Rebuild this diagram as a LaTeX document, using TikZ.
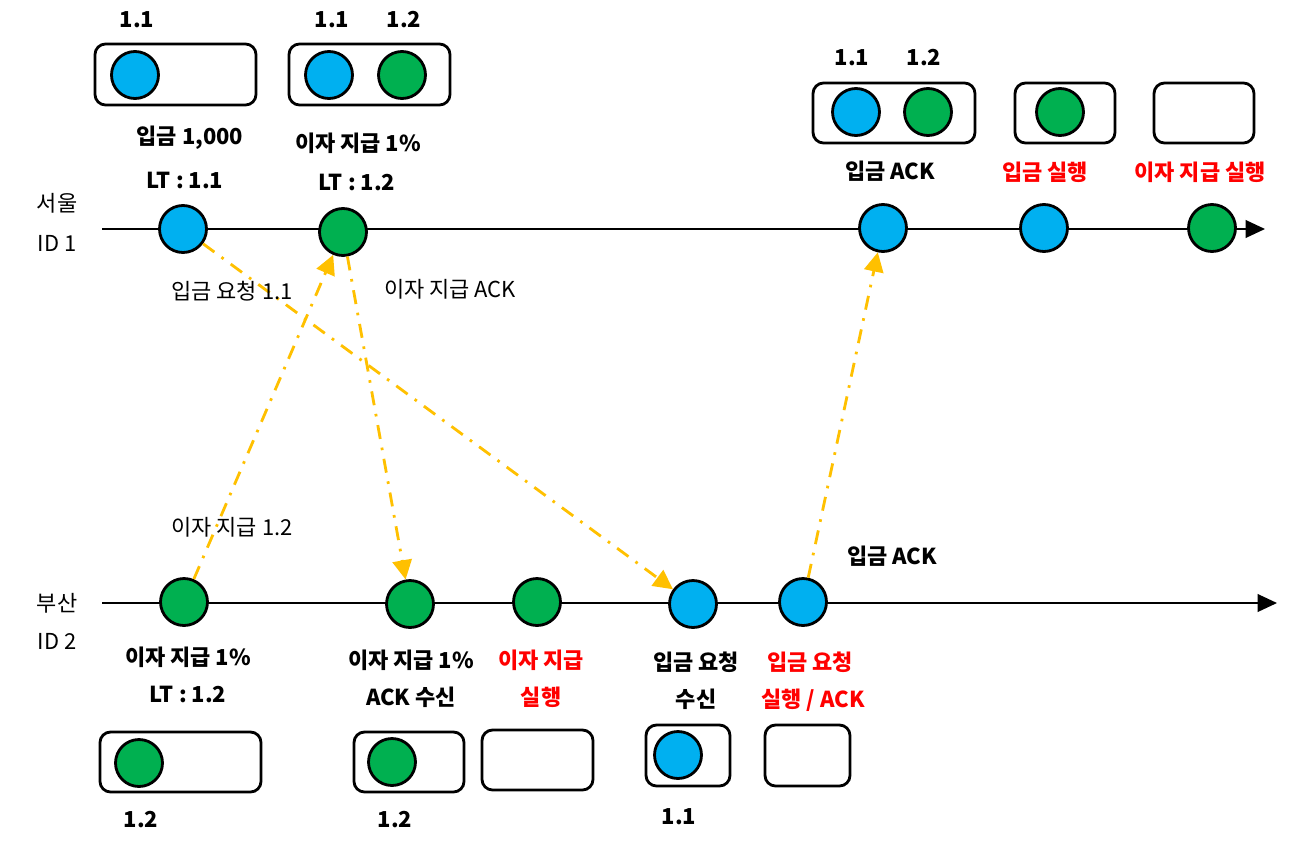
\documentclass[tikz,border=0pt]{standalone}
\usepackage{fontspec}
\setmainfont{Noto Sans CJK KR}
\usetikzlibrary{arrows.meta}
\definecolor{evblue}{RGB}{0,176,240}
\definecolor{evgreen}{RGB}{0,176,80}
\definecolor{msgcol}{RGB}{255,192,0}
\definecolor{runcol}{RGB}{255,0,0}

\begin{document}
\begin{tikzpicture}[x=0.02cm,y=-0.02cm]
    \tikzstyle{every node}=[font=\fontsize{12.5}{14}\selectfont]
    \tikzset{
        ev/.style={circle, draw=black, line width=1.6pt, minimum size=0.94cm, inner sep=0pt},
        evb/.style={ev, fill=evblue},
        evg/.style={ev, fill=evgreen},
        buf/.style={draw=black, line width=1.6pt, rounded corners=6pt},
        lbl/.style={font=\fontsize{12.5}{14}\selectfont\bfseries},
        run/.style={lbl, text=runcol},
        tl/.style={line width=1.1pt, -{Triangle[length=11pt,width=10pt]}},
        msg/.style={draw=msgcol, line width=1.6pt, dash pattern=on 8pt off 5pt on 1.5pt off 5pt, -{Triangle[length=11pt,width=11pt]}}
    }
    \useasboundingbox (0,0) rectangle (1297,845);

    % Time lines
    \coordinate (S0) at (102,229);
    \coordinate (S1) at (1265,229);
    \coordinate (B0) at (102,603);
    \coordinate (B1) at (1277,603);
    \draw[tl] (S0) -- (S1);
    \draw[tl] (B0) -- (B1);

    \node at (57,203) (Sname) {서울};
    \node at (57,243) (Sid) {ID 1};
    \node at (57,603) (Bname) {부산};
    \node at (57,641) (Bid) {ID 2};

    % Seoul events
    \node[evb] at (183,229) (Se1) {};
    \node[evg] at (343,232) (Se2) {};
    \node[evb] at (883,228) (Se3) {};
    \node[evb] at (1044,228) (Se4) {};
    \node[evg] at (1212,228) (Se5) {};

    % Busan events
    \node[evg] at (184,602) (Be1) {};
    \node[evg] at (410,604) (Be2) {};
    \node[evg] at (537,602) (Be3) {};
    \node[evb] at (693,604) (Be4) {};
    \node[evb] at (803,602) (Be5) {};

    % Messages
    \draw[msg] (Se1) -- (Be4);
    \draw[msg] (Be1) -- (Se2);
    \draw[msg] (Se2) -- (Be2);
    \draw[msg] (Be5) -- (Se3);

    \node at (232,291) (Mreq) {입금 요청 1.1};
    \node at (450,289) (Mack) {이자 지급 ACK};
    \node at (232,527) (Mint) {이자 지급 1.2};

    % Seoul labels
    \node[lbl] at (190,138) (Sl1) {입금 1,000};
    \node[lbl] at (185,180) (Sl1b) {LT : 1.1};
    \node[lbl] at (358,143) (Sl2) {이자 지급 1\%};
    \node[lbl] at (357,182) (Sl2b) {LT : 1.2};
    \node[lbl] at (890,171) (Sl3) {입금 ACK};
    \node[run] at (1045,172) (Sl4) {입금 실행};
    \node[run] at (1200,172) (Sl5) {이자 지급 실행};

    % Busan labels
    \node[lbl] at (188,657) (Bl1) {이자 지급 1\%};
    \node[lbl] at (188,694) (Bl1b) {LT : 1.2};
    \node[lbl] at (411,660) (Bl2) {이자 지급 1\%};
    \node[lbl] at (411,697) (Bl2b) {ACK 수신};
    \node[run] at (541,660) (Bl3) {이자 지급};
    \node[run] at (541,697) (Bl3b) {실행};
    \node[lbl] at (696,662) (Bl4) {입금 요청};
    \node[lbl] at (696,699) (Bl4b) {수신};
    \node[run] at (810,662) (Bl5) {입금 요청};
    \node[run] at (813,700) (Bl5b) {실행 / ACK};
    \node[lbl] at (892,556) (Bl6) {입금 ACK};

    % Seoul buffers
    \draw[buf] (95,44) rectangle (256,105);
    \node[evb] at (135,75) (Sq1a) {};
    \node[lbl] at (137,20) (Sq1t) {1.1};
    \draw[buf] (289,44) rectangle (450,105);
    \node[evb] at (329,75) (Sq2a) {};
    \node[evg] at (402,75) (Sq2b) {};
    \node[lbl] at (332,20) (Sq2ta) {1.1};
    \node[lbl] at (404,20) (Sq2tb) {1.2};
    \draw[buf] (813,83) rectangle (975,143);
    \node[evb] at (856,112) (Sq3a) {};
    \node[evg] at (928,112) (Sq3b) {};
    \node[lbl] at (852,58) (Sq3ta) {1.1};
    \node[lbl] at (924,58) (Sq3tb) {1.2};
    \draw[buf] (1015,83) rectangle (1115,143);
    \node[evg] at (1060,112) (Sq4a) {};
    \draw[buf] (1154,83) rectangle (1254,143);

    % Busan buffers
    \draw[buf] (100,732) rectangle (261,792);
    \node[evg] at (139,763) (Bq1a) {};
    \node[lbl] at (141,820) (Bq1t) {1.2};
    \draw[buf] (354,732) rectangle (464,792);
    \node[evg] at (392,762) (Bq2a) {};
    \node[lbl] at (395,820) (Bq2t) {1.2};
    \draw[buf] (482,730) rectangle (593,790);
    \draw[buf] (646,725) rectangle (730,786);
    \node[evb] at (678,755) (Bq4a) {};
    \node[lbl] at (679,817) (Bq4t) {1.1};
    \draw[buf] (765,725) rectangle (850,786);

\end{tikzpicture}
\end{document}
